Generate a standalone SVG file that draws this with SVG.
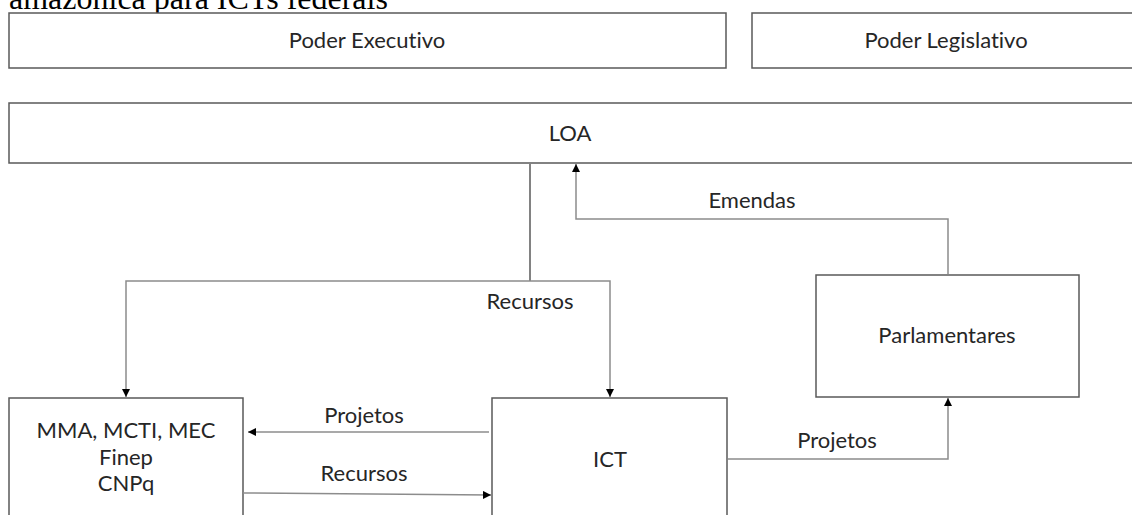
<svg xmlns="http://www.w3.org/2000/svg" width="1132" height="515" viewBox="0 0 1132 515">
  <style>
    .box { fill: #ffffff; stroke: #595959; stroke-width: 1.5; }
    .lbl { font-family: Lato, "Open Sans", sans-serif; font-size: 22px; fill: #262626; text-anchor: middle; font-variant-ligatures: none; }
    .cap { font-family: "Liberation Serif", serif; font-size: 32px; fill: #000000; }
    .wire { fill: none; stroke: #8c8c8c; stroke-width: 1.5; }
    .wire.dark { stroke: #595959; }
  </style>
  <defs>
    <marker id="arrow" viewBox="0 0 10 10" refX="10" refY="5" markerWidth="8" markerHeight="8" markerUnits="userSpaceOnUse" orient="auto">
      <path d="M0,0 L10,5 L0,10 Z" fill="#000000"/>
    </marker>
  </defs>
  <rect width="1132" height="515" fill="#ffffff"/>

  <!-- heading line, partly above the frame -->
  <text class="cap" x="9" y="9">amazônica para ICTs federais</text>

  <g id="poder-executivo">
    <rect class="box" x="9" y="13" width="717" height="55"/>
    <text class="lbl" x="367" y="48">Poder Executivo</text>
  </g>
  <g id="poder-legislativo">
    <rect class="box" x="752" y="13" width="400" height="55"/>
    <text class="lbl" x="946" y="48">Poder Legislativo</text>
  </g>
  <g id="loa">
    <rect class="box" x="9" y="103" width="1143" height="60"/>
    <text class="lbl" x="570" y="141">LOA</text>
  </g>
  <g id="parlamentares">
    <rect class="box" x="816" y="275" width="263" height="122"/>
    <text class="lbl" x="947" y="343">Parlamentares</text>
  </g>
  <g id="ministerios">
    <rect class="box" x="9" y="398" width="234" height="140"/>
    <text class="lbl" x="126" y="438">MMA, MCTI, MEC</text>
    <text class="lbl" x="126" y="465">Finep</text>
    <text class="lbl" x="126" y="491">CNPq</text>
  </g>
  <g id="ict">
    <rect class="box" x="492" y="398" width="235" height="140"/>
    <text class="lbl" x="610" y="467">ICT</text>
  </g>

  <g id="connectors">
    <path class="wire dark" d="M530,164 V281"/>
    <path class="wire" d="M530,281 H126 V397" marker-end="url(#arrow)"/>
    <path class="wire" d="M530,281 H610 V397" marker-end="url(#arrow)"/>
    <path class="wire" d="M948,274 V219 H576 V164" marker-end="url(#arrow)"/>
    <path class="wire" d="M489,432 H248" marker-end="url(#arrow)"/>
    <path class="wire" d="M243,493 L491,495" marker-end="url(#arrow)"/>
    <path class="wire" d="M728,459 H948 V398" marker-end="url(#arrow)"/>
    <text class="lbl" x="530" y="309">Recursos</text>
    <text class="lbl" x="752" y="208">Emendas</text>
    <text class="lbl" x="364" y="423">Projetos</text>
    <text class="lbl" x="364" y="481">Recursos</text>
    <text class="lbl" x="837" y="448">Projetos</text>
  </g>
</svg>
